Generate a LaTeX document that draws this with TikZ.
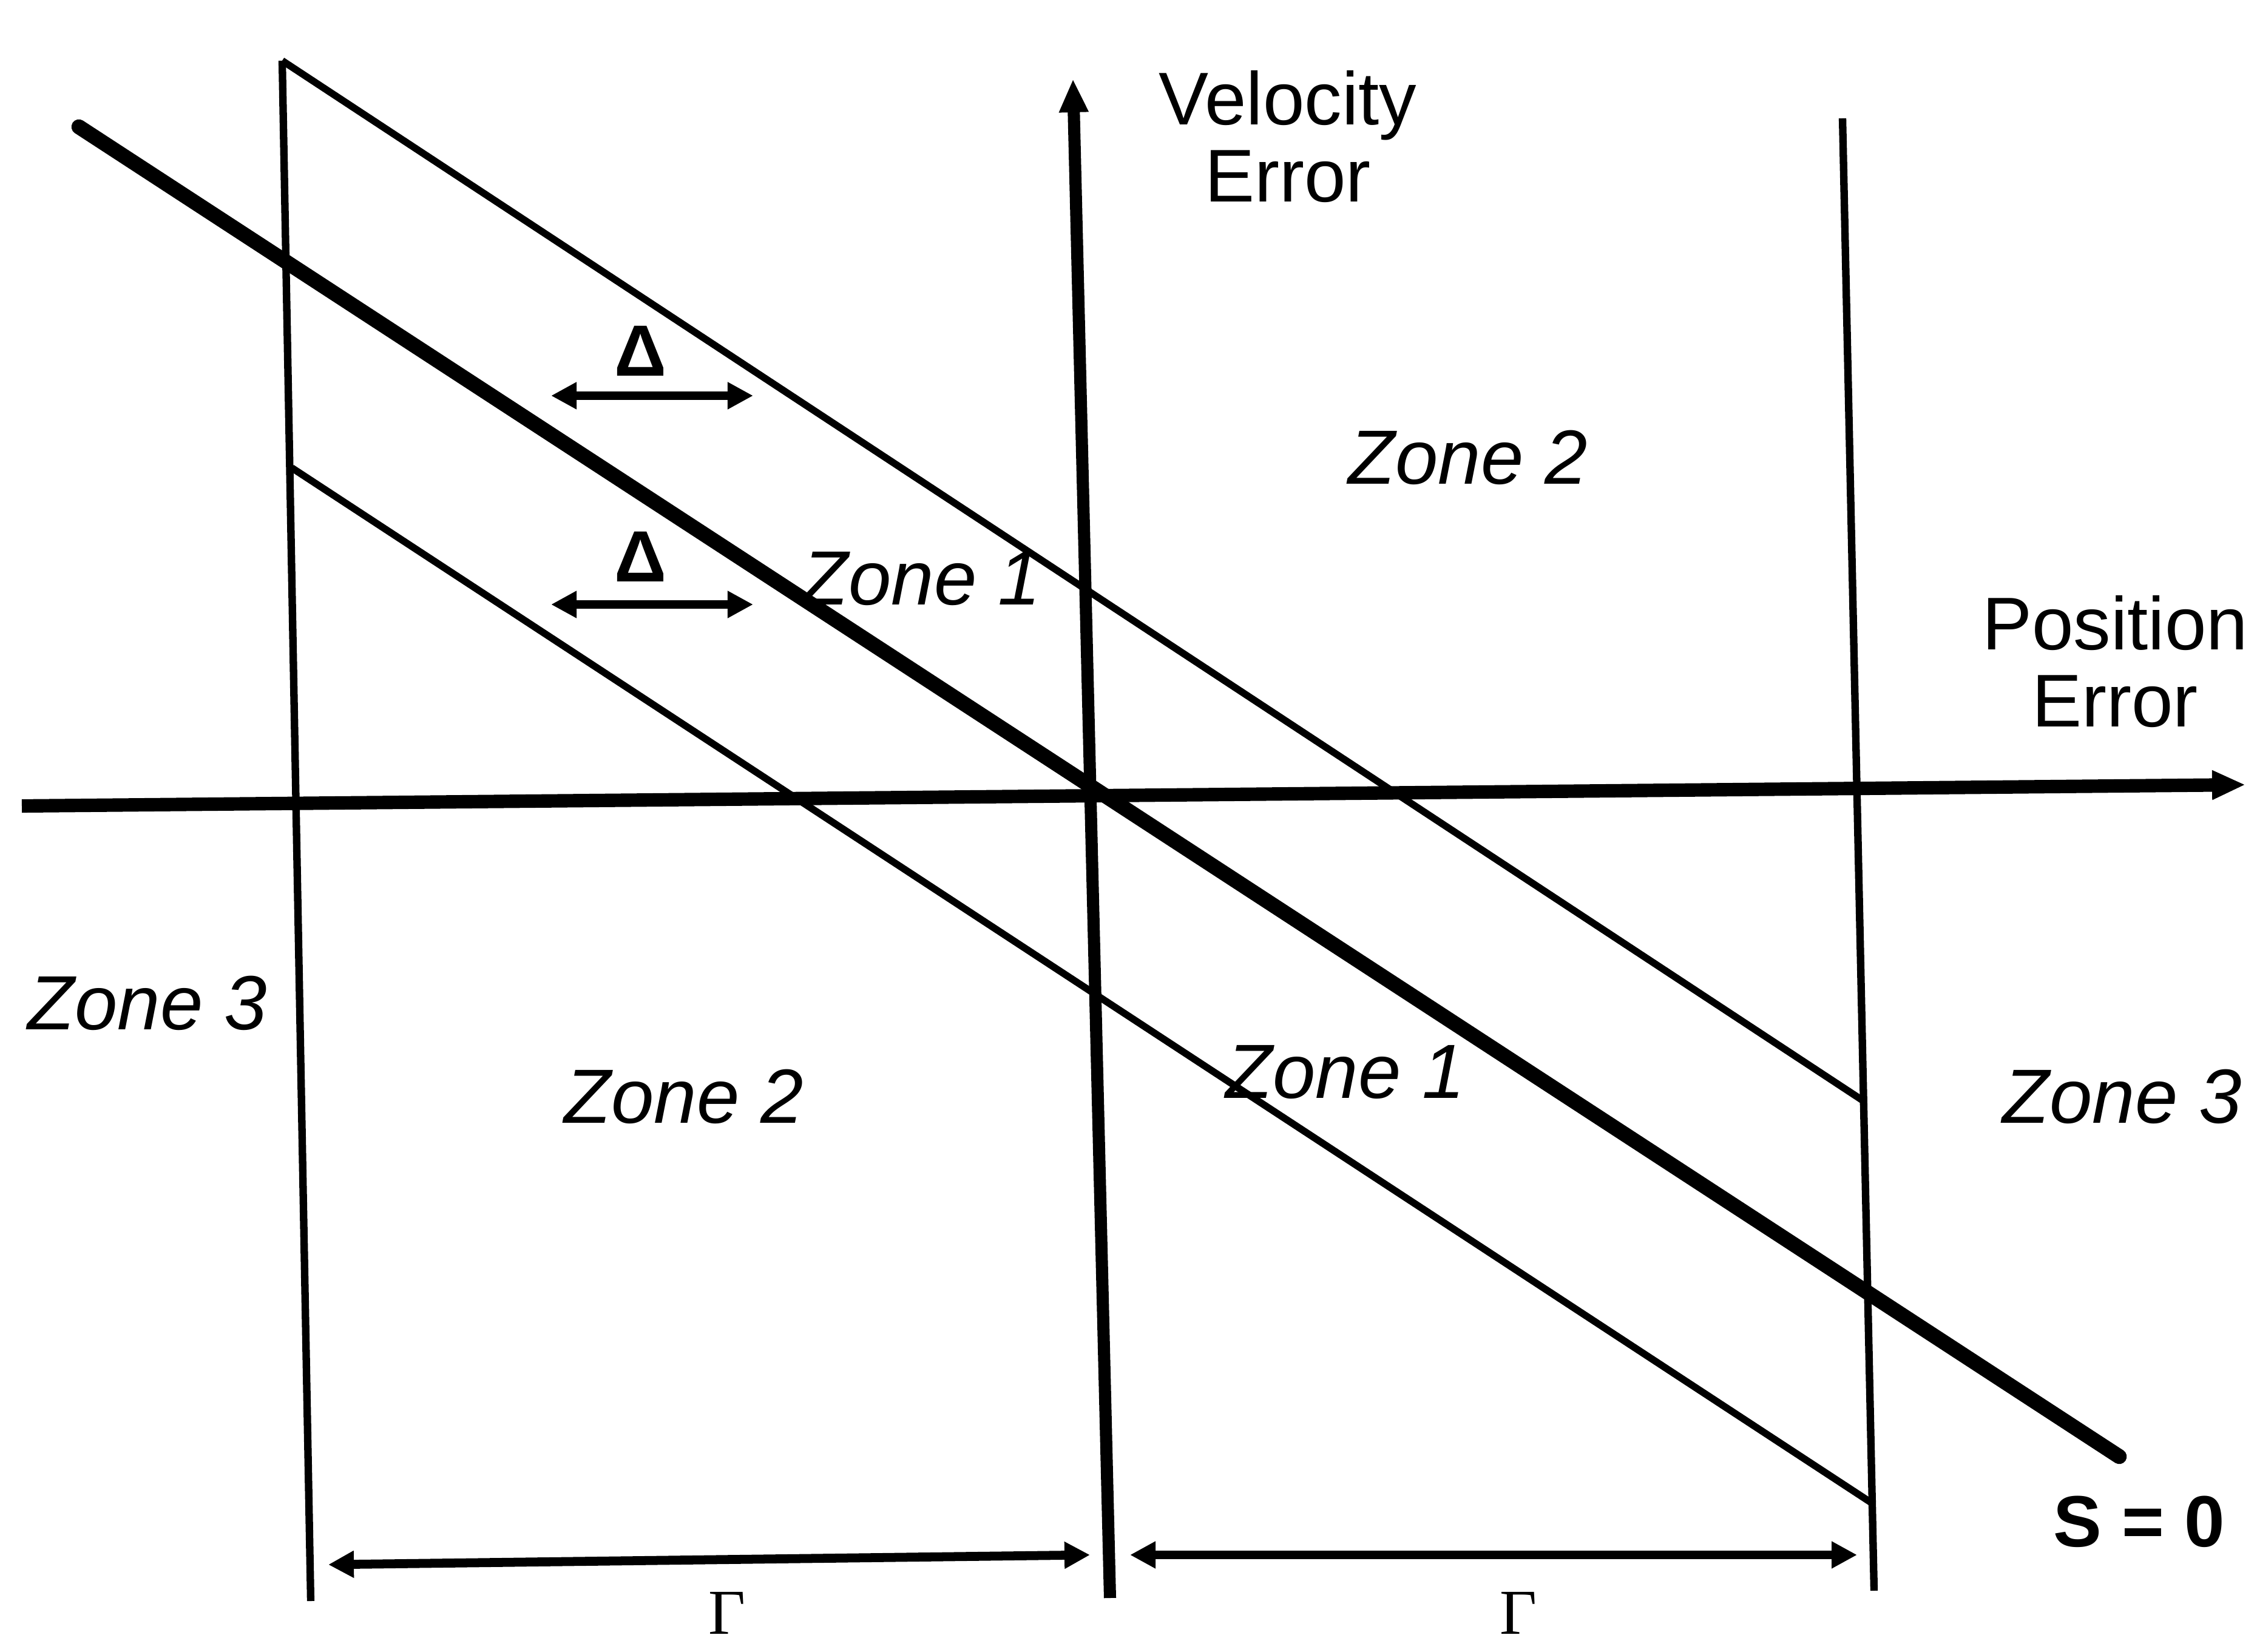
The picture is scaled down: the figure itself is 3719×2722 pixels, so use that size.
\documentclass[tikz,border=0pt]{standalone}
\usepackage{fontspec}
\setmainfont{Liberation Sans}
\newfontfamily\gammafont{Liberation Serif}
\usetikzlibrary{arrows.meta}
\begin{document}
\begin{tikzpicture}[x=0.01cm,y=-0.01cm,
  haxis/.style={line width=6.3pt},
  vaxis/.style={line width=5.7pt},
  sline/.style={line width=7pt,line cap=round},
  thinline/.style={line width=3.3pt},
  bound/.style={line width=3.5pt},
  axtip/.style={-{Triangle[length=0.55cm,width=0.45cm]}},
  dimarrow/.style={line width=4.2pt,{Triangle[length=0.42cm,width=0.42cm]}-{Triangle[length=0.42cm,width=0.42cm]}},
  zone/.style={font=\fontsize{36}{40}\selectfont\itshape,inner sep=0pt},
  axlabel/.style={font=\fontsize{35}{36}\selectfont,align=center,inner sep=0pt},
  deltalbl/.style={font=\fontsize{34}{36}\selectfont\bfseries,inner sep=0pt},
  gammalbl/.style={font=\fontsize{30}{32}\selectfont\gammafont,inner sep=0pt},
  slbl/.style={font=\fontsize{34}{36}\selectfont\bfseries,inner sep=0pt}
]
\path[use as bounding box,fill=white] (0,0) rectangle (3719,2722);

% coordinates
\coordinate (hl) at (36,1328);
\coordinate (hr) at (3700,1293);
\coordinate (vb) at (1829,2633);
\coordinate (vt) at (1768,130);
\coordinate (lt) at (465,100);
\coordinate (lb) at (512,2638);
\coordinate (rt) at (3036,195);
\coordinate (rb) at (3088,2621);
\coordinate (s1) at (130,209);
\coordinate (s2) at (3492,2400);
\coordinate (u1) at (465,100);
\coordinate (u2) at (3072,1815);
\coordinate (d1) at (481,771);
\coordinate (d2) at (3088,2479);
\coordinate (da1) at (908,652);
\coordinate (da2) at (1241,652);
\coordinate (db1) at (908,996);
\coordinate (db2) at (1241,996);
\coordinate (ga1) at (541,2578);
\coordinate (ga2) at (1796,2562);
\coordinate (gb1) at (1862,2562);
\coordinate (gb2) at (3060,2562);

% boundaries
\draw[bound] (lt) -- (lb);
\draw[bound] (rt) -- (rb);
% diagonal lines
\draw[thinline] (u1) -- (u2);
\draw[thinline] (d1) -- (d2);
\draw[sline] (s1) -- (s2);
% axes
\draw[haxis,axtip] (hl) -- (hr);
\draw[vaxis,axtip] (vb) -- (vt);
% dimension arrows
\draw[dimarrow] (da1) -- (da2);
\draw[dimarrow] (db1) -- (db2);
\draw[dimarrow] (ga1) -- (ga2);
\draw[dimarrow] (gb1) -- (gb2);

% labels
\node[axlabel] (vel) at (2122,225) {Velocity\\Error};
\node[axlabel] (pos) at (3485,1090) {Position\\Error};
\node[zone] (z2u) at (2419,754) {Zone 2};
\node[zone] (z1u) at (1518,954) {Zone 1};
\node[zone] (z3l) at (243,1653) {Zone 3};
\node[zone] (z2l) at (1127,1807) {Zone 2};
\node[zone] (z1l) at (2217,1767) {Zone 1};
\node[zone] (z3r) at (3497,1807) {Zone 3};
\node[slbl] (s0) at (3525,2507) {S = 0};
\node[deltalbl] (dl1) at (1055,578) {Δ};
\node[deltalbl] (dl2) at (1055,917) {Δ};
\node[gammalbl] (g1) at (1198,2658) {Γ};
\node[gammalbl] (g2) at (2502,2658) {Γ};
\end{tikzpicture}
\end{document}
